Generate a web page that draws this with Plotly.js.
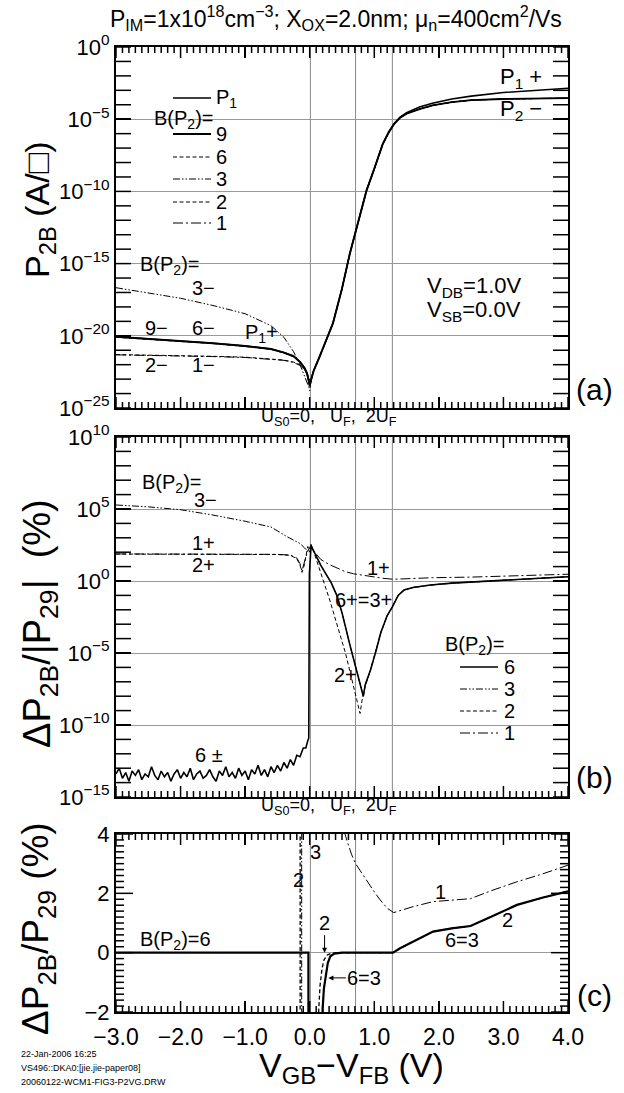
<!DOCTYPE html>
<html><head><meta charset="utf-8">
<script src="https://cdn.plot.ly/plotly-3.0.1.min.js"></script>
<style>html,body{margin:0;padding:0;background:#fff}#chart{width:624px;height:1093px}</style>
</head><body><div id="chart"></div>
<script>
// ---------------- DATA ----------------
// Panel (a): log10 of P2B (A/□) versus VGB-VFB (V)
const xA_left  = [-3.0, -2.5, -2.0, -1.5, -1.0, -0.6, -0.4, -0.25, -0.15, -0.08, -0.04, -0.01, 0.0];
const xA_right = [0.02, 0.06, 0.15, 0.25, 0.36, 0.5, 0.62, 0.75, 0.88, 1.0, 1.13, 1.22, 1.31, 1.4, 1.5, 1.7, 1.9, 2.2, 2.5, 3.0, 3.5, 4.0];
const logA_P1_left  = [-20.06, -20.2, -20.35, -20.5, -20.7, -20.9, -21.15, -21.4, -21.8, -22.2, -22.6, -23.1, -23.4];
const logA_P1_right = [-23.0, -22.4, -21.45, -20.3, -19.1, -16.7, -14.3, -12.1, -9.9, -8.4, -6.7, -5.9, -5.28, -4.85, -4.55, -4.15, -3.9, -3.6, -3.4, -3.15, -2.98, -2.86];
const logA_P2_right = [-23.1, -22.45, -21.5, -20.35, -19.15, -16.75, -14.35, -12.15, -9.95, -8.45, -6.75, -5.95, -5.32, -4.9, -4.62, -4.3, -4.05, -3.82, -3.68, -3.6, -3.56, -3.54];
const logA_B9_left = [-20.08, -20.22, -20.37, -20.52, -20.72, -20.92, -21.17, -21.42, -21.82, -22.25, -22.65, -23.15, -23.5];
const logA_B6_left = [-20.1, -20.24, -20.39, -20.54, -20.74, -20.94, -21.19, -21.45, -21.85, -22.3, -22.7, -23.2, -23.5];
const logA_B3_left = [-16.67, -17.05, -17.4, -17.9, -18.47, -19.3, -20.1, -21.1, -22.0, -22.8, -23.2, -23.6, -23.8];
const logA_B2_left = [-21.3, -21.33, -21.37, -21.42, -21.48, -21.58, -21.68, -21.82, -22.0, -22.3, -22.6, -23.0, -23.4];
const logA_B1_left = [-21.32, -21.35, -21.39, -21.44, -21.5, -21.6, -21.7, -21.85, -22.05, -22.35, -22.65, -23.05, -23.45];

// Panel (b): log10 of ΔP2B/|P29| (%)
const xB_noise = [-3.00,-2.95,-2.90,-2.85,-2.80,-2.75,-2.70,-2.65,-2.60,-2.55,-2.50,-2.45,-2.40,-2.35,-2.30,-2.25,-2.20,-2.15,-2.10,-2.05,
  -2.00,-1.95,-1.90,-1.85,-1.80,-1.75,-1.70,-1.65,-1.60,-1.55,-1.50,-1.45,-1.40,-1.35,-1.30,-1.25,-1.20,-1.15,-1.10,-1.05,
  -1.00,-0.95,-0.90,-0.85,-0.80,-0.75,-0.70,-0.65,-0.60,-0.55,-0.50,
  -0.45,-0.40,-0.35,-0.30,-0.25,-0.20,-0.15,-0.10,-0.06,-0.03,-0.015,-0.005,0.02];
const logB6_noise = [-13.4,-13.0,-13.7,-13.3,-13.9,-13.2,-13.5,-13.1,-13.8,-13.4,
  -13.6,-12.9,-13.5,-13.8,-13.2,-13.6,-13.3,-13.9,-13.4,-13.1,
  -13.7,-13.3,-13.6,-13.0,-13.8,-13.4,-13.2,-13.7,-13.5,-13.1,
  -13.6,-13.9,-13.2,-13.5,-12.9,-13.6,-13.3,-13.7,-13.0,-13.5,
  -13.2,-13.8,-13.1,-13.4,-12.8,-13.5,-13.1,-13.6,-12.9,-13.3,
  -12.8,
  -13.2,-12.6,-13.0,-12.4,-12.8,-12.1,-12.2,-11.6,-11.6,-11.1,-10.9,0.5,2.4];
const xB_right = [0.06, 0.10, 0.17, 0.25, 0.33, 0.42, 0.50, 0.62, 0.72, 0.80, 0.83, 0.86, 0.94, 1.03, 1.10, 1.20, 1.28, 1.37, 1.46, 1.60, 1.87, 2.20, 2.50, 3.00, 3.50, 4.00];
const logB6_right = [2.1, 1.7, 1.1, 0.5, -0.1, -1.0, -2.2, -4.4, -6.2, -7.6, -8.0, -7.2, -6.2, -4.8, -3.6, -2.4, -1.8, -1.0, -0.63, -0.45, -0.28, -0.15, -0.07, 0.08, 0.2, 0.3];
const xB3_left = [-3.0, -2.5, -2.0, -1.5, -1.0, -0.77, -0.6, -0.36, -0.25, -0.15, -0.08, -0.03, 0.0, 0.02];
const logB3_left = [5.28, 5.15, 4.95, 4.58, 4.15, 3.95, 3.75, 3.1, 2.85, 2.6, 2.3, 2.05, 2.3, 2.55];
const xB12_left = [-3.0, -2.0, -1.0, -0.5, -0.3, -0.2, -0.15, -0.12, -0.09, -0.06, -0.03, 0.0, 0.02];
const logB1_left = [1.88, 1.88, 1.87, 1.85, 1.8, 1.6, 1.2, 0.7, 1.2, 1.6, 2.1, 2.3, 2.5];
const logB2_left = [1.87, 1.87, 1.86, 1.84, 1.78, 1.55, 1.1, 0.6, 1.0, 1.7, 2.4, 2.0, 2.5];
const xB2_right = [0.065, 0.15, 0.31, 0.555, 0.70, 0.76, 0.78, 0.81, 0.86, 0.94, 1.03, 1.10, 1.20, 1.28, 1.37, 1.46, 1.60, 1.87, 2.20, 2.50, 3.00, 3.50, 4.00];
const logB2_right = [2.0, 0.85, -1.32, -5.02, -7.6, -8.7, -9.2, -8.3, -7.3, -6.2, -4.8, -3.6, -2.4, -1.8, -1.0, -0.63, -0.45, -0.28, -0.15, -0.07, 0.08, 0.2, 0.3];
const xB1_right = [0.06, 0.17, 0.30, 0.45, 0.55, 0.68, 0.85, 1.00, 1.15, 1.30, 1.60, 1.90, 2.50, 3.00, 3.50, 4.00];
const logB1_right = [2.1, 1.5, 1.15, 0.85, 0.65, 0.5, 0.38, 0.28, 0.18, 0.12, 0.18, 0.23, 0.27, 0.34, 0.42, 0.47];

// Panel (c): ΔP2B/P29 (%) linear
const xC6 = [-3.0, -0.02, -0.01, 0.18, 0.19, 0.20, 0.22, 0.25, 0.28, 0.32, 0.38, 0.5, 1.0, 1.29];
const c6  = [0, 0, -300, -300, -2.5, -1.9, -1.2, -0.7, -0.35, -0.12, -0.03, 0, 0, 0];
const xC3 = [-3.0, -0.13, -0.12, 0.18, 0.19, 0.20, 0.22, 0.25, 0.28, 0.32, 0.38, 0.5, 1.0, 1.29];
const c3  = [190000, 300, -300, -300, -2.5, -1.9, -1.2, -0.7, -0.35, -0.12, -0.03, 0, 0, 0];
const xC2 = [-3.0, -0.15, -0.14, 0.12, 0.13, 0.14, 0.16, 0.19, 0.22, 0.27, 0.33, 0.45, 1.0, 1.29];
const c2  = [76, 70, -300, -300, -2.5, -1.9, -1.1, -0.55, -0.25, -0.08, -0.02, 0, 0, 0];
const xC_tail = [1.4, 1.6, 1.91, 2.2, 2.49, 2.8, 3.21, 3.6, 4.0];
const c_tail  = [0.15, 0.38, 0.71, 0.82, 0.9, 1.2, 1.61, 1.85, 2.07];
const xC1 = [-3.0, -0.12, 0.3, 0.54, 0.58, 0.65, 0.71, 0.8, 0.89, 1.0, 1.09, 1.2, 1.3, 1.45, 1.6, 1.91, 2.2, 2.49, 2.8, 3.21, 3.6, 4.0];
const c1  = [76, 5, 15, 4.05, 3.75, 3.3, 3.0, 2.7, 2.4, 2.05, 1.78, 1.5, 1.35, 1.45, 1.55, 1.72, 1.76, 1.82, 2.08, 2.39, 2.65, 2.95];

// Reference voltages: US0=0, UF, 2UF
const refLines = [0.01, 0.71, 1.28];
// Tick definitions
const xMajor = [-3, -2, -1, 0, 1, 2, 3, 4];
const xLabels = ['−3.0', '−2.0', '−1.0', '0.0', '1.0', '2.0', '3.0', '4.0'];
const yExpA = [-25, -20, -15, -10, -5, 0];
const yExpB = [-15, -10, -5, 0, 5, 10];
const yTicksC = [-2, 0, 2, 4];

// ---------------- LAYOUT HELPERS ----------------
const FONT = 'Liberation Sans, Arial, Helvetica, sans-serif';
const W = 624, H = 1093, ML = 116, MR = 56, MT = 47, MB = 81;
const PW = W - ML - MR, PH = H - MT - MB;
const px = v => (v - ML) / PW;
const py = v => (H - MB - v) / PH;
const pow10 = a => a.map(v => Math.pow(10, v));
const expLabel = e => '10<sup>' + (e < 0 ? '−' + (-e) : e) + '</sup>';

const DASH = {solid: 'solid', dash: '4px,2.5px', dd: '7px,2px,1.5px,2px,1.5px,2px', d1: '10px,3px,2px,3px'};
const K = '#000';

function tr(x, y, xa, ya, dash, width) {
  return {x, y, xaxis: xa, yaxis: ya, mode: 'lines', hoverinfo: 'skip',
          line: {color: K, width: width || 1, dash: dash}};
}

// panel frames in page pixels (top, bottom)
const PANEL = {a: [47, 408], b: [437, 797], c: [834, 1012]};
const domA = [py(PANEL.a[1]), py(PANEL.a[0])], domB = [py(PANEL.b[1]), py(PANEL.b[0])], domC = [py(PANEL.c[1]), py(PANEL.c[0])];

// Minor tick marks drawn inside the frame on four sides, as a line trace in the panel's own axes
function tickTrace(xa, ya, yLo, yHi, nY, isLog, pxH, yLen) {
  const xs = [], ys = [];
  const uX = 7 / PW, uY = (yHi - yLo) / pxH;
  const conv = v => isLog ? Math.pow(10, v) : v;
  for (let i = 0; i <= 70; i++) {
    const v = Math.round((-3 + i / 10) * 10) / 10;
    const len = (i % 10 === 0) ? 11 : 6;
    xs.push(v, v, null, v, v, null);
    ys.push(conv(yLo), conv(yLo + len * uY), null, conv(yHi), conv(yHi - len * uY), null);
  }
  for (let i = 0; i <= nY; i++) {
    const yv = yLo + (i / nY) * (yHi - yLo), len = yLen(i);
    xs.push(-3, -3 + len * uX, null, 4, 4 - len * uX, null);
    ys.push(conv(yv), conv(yv), null, conv(yv), conv(yv), null);
  }
  return {x: xs, y: ys, xaxis: xa, yaxis: ya, mode: 'lines', hoverinfo: 'skip', connectgaps: false,
          line: {color: K, width: 1.5, simplify: false}};
}

const traces = [
  // (a)
  tr(xA_left.concat(xA_right), pow10(logA_B3_left.concat(logA_P2_right)), 'x', 'y', DASH.dd, 1),
  tr(xA_left.concat(xA_right), pow10(logA_B2_left.concat(logA_P2_right)), 'x', 'y', DASH.dash, 1),
  tr(xA_left.concat(xA_right), pow10(logA_B1_left.concat(logA_P2_right)), 'x', 'y', DASH.d1, 1),
  tr(xA_left.concat(xA_right), pow10(logA_B6_left.concat(logA_P2_right)), 'x', 'y', DASH.dash, 1),
  tr(xA_left.concat(xA_right), pow10(logA_B9_left.concat(logA_P2_right)), 'x', 'y', DASH.solid, 1.8),
  tr(xA_left.concat(xA_right), pow10(logA_P1_left.concat(logA_P1_right)), 'x', 'y', DASH.solid, 1.6),
  // (b)
  tr(xB3_left.concat(xB_right), pow10(logB3_left.concat(logB6_right)), 'x2', 'y2', DASH.dd, 1),
  tr(xB12_left.concat(xB1_right), pow10(logB1_left.concat(logB1_right)), 'x2', 'y2', DASH.d1, 1),
  tr(xB12_left.concat(xB2_right), pow10(logB2_left.concat(logB2_right)), 'x2', 'y2', DASH.dash, 1),
  tr(xB_noise.concat(xB_right), pow10(logB6_noise.concat(logB6_right)), 'x2', 'y2', DASH.solid, 1.6),
  // (c)
  tr(xC3.concat(xC_tail), c3.concat(c_tail), 'x3', 'y3', DASH.dd, 1),
  tr(xC2.concat(xC_tail), c2.concat(c_tail), 'x3', 'y3', DASH.dash, 1.3),
  tr(xC1, c1, 'x3', 'y3', DASH.d1, 1),
  tr(xC6.concat(xC_tail), c6.concat(c_tail), 'x3', 'y3', DASH.solid, 2.2),
  // tick marks
  tickTrace('x', 'y', yExpA[0], yExpA[yExpA.length - 1], 25, true, PANEL.a[1] - PANEL.a[0], () => 15),
  tickTrace('x2', 'y2', yExpB[0], yExpB[yExpB.length - 1], 25, true, PANEL.b[1] - PANEL.b[0], () => 15),
  tickTrace('x3', 'y3', yTicksC[0], yTicksC[yTicksC.length - 1], 30, false, PANEL.c[1] - PANEL.c[0], i => (i % 10 === 0) ? 17 : 8),
];

const xBase = {
  range: [-3, 4], showline: true, linecolor: K, linewidth: 2, mirror: 'allticks',
  ticks: 'inside', ticklen: 11, tickwidth: 1.5, tickcolor: K, tickmode: 'array', tickvals: xMajor,
  showgrid: false, zeroline: false, showticklabels: false, fixedrange: true,
  tickfont: {family: FONT, size: 23, color: K}
};
function yLog(domain, exps, anchor) {
  return {
    domain, anchor, type: 'log', range: [exps[0], exps[exps.length - 1]],
    tickmode: 'array', tickvals: pow10(exps), ticktext: exps.map(expLabel),
    showline: true, linecolor: K, linewidth: 2, mirror: 'allticks',
    ticks: 'inside', ticklen: 15, tickwidth: 1.5, tickcolor: K,
    showgrid: true, gridcolor: '#999', gridwidth: 1, zeroline: false, fixedrange: true,
    tickfont: {family: FONT, size: 22, color: K}
  };
}

const shapes = [];
[['x', 'y'], ['x2', 'y2'], ['x3', 'y3']].forEach(([xa, ya]) => {
  refLines.forEach(v => shapes.push({type: 'line', xref: xa, yref: ya + ' domain', x0: v, x1: v, y0: 0, y1: 1,
    line: {color: '#888', width: 1}, layer: 'below'}));
});

function legLine(x0, x1, y, dash, w) {
  shapes.push({type: 'line', xref: 'paper', yref: 'paper', x0: px(x0), x1: px(x1), y0: py(y), y1: py(y),
    line: {color: K, width: w || 1, dash}});
}

const ann = [];
function A(text, x, y, size, xanchor, extra) {
  ann.push(Object.assign({text, x: px(x), y: py(y), xref: 'paper', yref: 'paper', showarrow: false,
    xanchor: xanchor || 'left', yanchor: 'middle', font: {family: FONT, size, color: K}}, extra || {}));
}

// Legend (a)
const legA = [[98, DASH.solid, 1.6, 'P<sub>1</sub>'], [134, DASH.solid, 1.8, '9'], [157, DASH.dash, 1, '6'],
              [179, DASH.dd, 1, '3'], [202, DASH.dash, 1, '2'], [223, DASH.d1, 1, '1']];
legA.forEach(r => { legLine(173, 211, r[0], r[1], r[2]); A(r[3], 214, r[0], 20); });
A('B(P<sub>2</sub>)=', 152, 119, 20);
// Legend (b)
const legB = [[667, DASH.solid, 1.6, '6'], [689, DASH.dd, 1, '3'], [711, DASH.dash, 1, '2'], [733, DASH.d1, 1, '1']];
legB.forEach(r => { legLine(460, 498, r[0], r[1], r[2]); A(r[3], 502, r[0], 20); });
A('B(P<sub>2</sub>)=', 443, 645, 20);

// Annotations (a)
A('B(P<sub>2</sub>)=', 138, 265, 20);
A('3−', 190, 288, 20);
A('9−', 143, 328, 20);
A('6−', 190, 328, 20);
A('P<sub>1</sub>+', 243, 333, 20);
A('2−', 143, 365, 20);
A('1−', 190, 365, 20);
A('P<sub>1</sub> +', 498, 78, 22);
A('P<sub>2</sub> −', 498, 110, 22);
A('V<sub>DB</sub>=1.0V', 474, 287, 22, 'center');
A('V<sub>SB</sub>=0.0V', 474, 311, 22, 'center');
// Annotations (b)
A('B(P<sub>2</sub>)=', 140, 483, 20);
A('3−', 192, 500, 20);
A('1+', 190, 543, 20);
A('2+', 190, 565, 20);
A('6 ±', 193, 755, 20);
A('1+', 365, 568, 20);
A('6+=3+', 333, 600, 20);
A('2+', 332, 675, 20);
// Annotations (c)
A('3', 308, 852, 20);
A('2', 291, 880, 20);
A('1', 433, 892, 20);
A('2', 500, 920, 20);
A('6=3', 443, 940, 20);
A('B(P<sub>2</sub>)=6', 138, 940, 20);
ann.push({text: '2', x: 0.23, y: 0, xref: 'x3', yref: 'y3', showarrow: true, arrowhead: 2, arrowsize: 1, arrowwidth: 1,
  arrowcolor: K, ax: 0, ay: -30, font: {family: FONT, size: 20, color: K}});
ann.push({text: '6=3', x: 0.29, y: -0.85, xref: 'x3', yref: 'y3', showarrow: true, arrowhead: 2, arrowsize: 1, arrowwidth: 1,
  arrowcolor: K, ax: 36, ay: 0, font: {family: FONT, size: 20, color: K}});

// Panel labels & U labels
A('(a)', 594, 389, 30, 'center');
A('(b)', 594, 777, 30, 'center');
A('(c)', 594, 995, 30, 'center');
A('U<sub>S0</sub>=0,   U<sub>F</sub>,  2U<sub>F</sub>', 329, 418, 18, 'center');
A('U<sub>S0</sub>=0,   U<sub>F</sub>,  2U<sub>F</sub>', 329, 806, 18, 'center');

// Axis titles
A('P<sub>2B</sub> (A/□)', 40, 210, 34, 'center', {textangle: -90});
A('ΔP<sub>2B</sub>/|P<sub>29</sub>|  (%)', 40, 624, 38, 'center', {textangle: -90});
A('ΔP<sub>2B</sub>/P<sub>29</sub> (%)', 38, 929, 37, 'center', {textangle: -90});
A('V<sub>GB</sub>−V<sub>FB</sub> (V)', 351, 1067, 34, 'center');

// Footer
A('22-Jan-2006 16:25', 19, 1054, 9);
A('VS496::DKA0:[jie.jie-paper08]', 19, 1068, 9);
A('20060122-WCM1-FIG3-P2VG.DRW', 19, 1082, 9);

// Title
A('P<sub>IM</sub>=1x10<sup>18</sup>cm<sup>−3</sup>; X<sub>OX</sub>=2.0nm; μ<sub>n</sub>=400cm<sup>2</sup>/Vs', 336, 18, 23, 'center');

const layout = {
  width: W, height: H, margin: {l: ML, r: MR, t: MT, b: MB, pad: 0},
  paper_bgcolor: '#fff', plot_bgcolor: '#fff', showlegend: false,
  font: {family: FONT, color: K},
  xaxis: Object.assign({}, xBase, {anchor: 'y'}),
  xaxis2: Object.assign({}, xBase, {anchor: 'y2'}),
  xaxis3: Object.assign({}, xBase, {anchor: 'y3', showticklabels: true, ticktext: xLabels, ticklabelstandoff: 3}),
  yaxis: yLog(domA, yExpA, 'x'),
  yaxis2: yLog(domB, yExpB, 'x2'),
  yaxis3: {domain: domC, anchor: 'x3', range: [-2, 4], tickmode: 'array', tickvals: yTicksC,
    ticktext: yTicksC.map(v => v < 0 ? '−' + (-v) : String(v)),
    showline: true, linecolor: K, linewidth: 2, mirror: 'allticks',
    ticks: 'inside', ticklen: 17, tickwidth: 1.5, tickcolor: K, showgrid: false,
    zeroline: true, zerolinecolor: '#999', zerolinewidth: 1, fixedrange: true,
    tickfont: {family: FONT, size: 22, color: K}},
  shapes, annotations: ann
};

Plotly.newPlot('chart', traces, layout, {displayModeBar: false, staticPlot: true});
</script></body></html>
